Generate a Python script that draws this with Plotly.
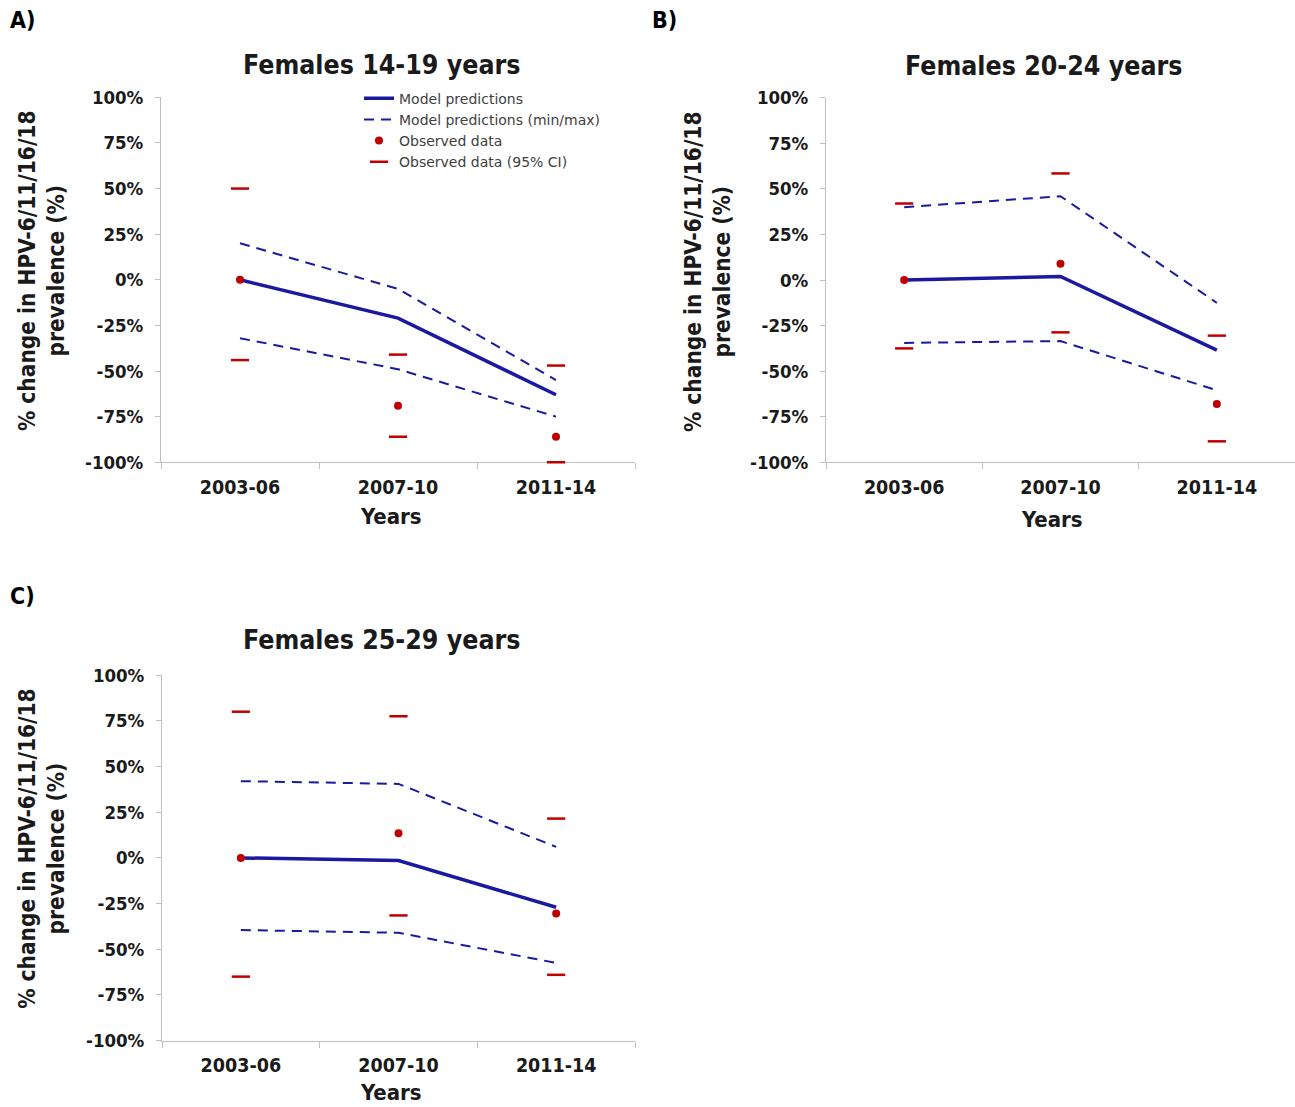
import plotly.graph_objects as go

W, H = 1295, 1107

periods = ["2003-06", "2007-10", "2011-14"]
y_ticks = [-100, -75, -50, -25, 0, 25, 50, 75, 100]
y_tick_labels = ["-100%", "-75%", "-50%", "-25%", "0%", "25%", "50%", "75%", "100%"]

panel_titles = ["Females 14-19 years", "Females 20-24 years", "Females 25-29 years"]
panel_letters = ["A)", "B)", "C)"]

# Panel A: females 14-19
a_model = [0, -21, -63]
a_max = [20, -5, -55]
a_min = [-32, -49, -75]
a_obs = [0, -69, -86]
a_ci_hi = [50, -41, -47]
a_ci_lo = [-44, -86, -100]

# Panel B: females 20-24
b_model = [0, 2, -38.5]
b_max = [40, 46, -12.5]
b_min = [-34.5, -33.5, -60.5]
b_obs = [0, 9, -68]
b_ci_hi = [42, 58.5, -30.5]
b_ci_lo = [-37.5, -28.7, -88.5]

# Panel C: females 25-29
c_model = [0, -1.5, -27]
c_max = [42, 40.5, 6]
c_min = [-39.5, -41, -57.5]
c_obs = [0, 13.5, -30.5]
c_ci_hi = [80, 77.5, 21.5]
c_ci_lo = [-65, -31.5, -64]

panels = [
    (a_model, a_max, a_min, a_obs, a_ci_hi, a_ci_lo),
    (b_model, b_max, b_min, b_obs, b_ci_hi, b_ci_lo),
    (c_model, c_max, c_min, c_obs, c_ci_hi, c_ci_lo),
]

BLUE = "#1a1aa0"
RED = "#c00000"
AXIS = "#bfbfbf"
TXT = "#1a1a1a"
FONT = "DejaVu Sans Condensed"

# plot areas in pixels: (left, right, top, bottom)
boxes = [(161, 635, 88, 460), (826, 1295, 88.5, 460), (162, 635, 677, 1049.5)]

def px(x):
    return x / W

def py(y):
    return 1 - y / H

fig = go.Figure()

for i, (model, mx, mn, obs, hi, lo) in enumerate(panels):
    n = "" if i == 0 else str(i + 1)
    xa, ya = "x" + n, "y" + n
    leg = i == 0
    fig.add_trace(go.Scatter(x=periods, y=model, mode="lines", name="Model predictions",
                             line=dict(color=BLUE, width=3.5), xaxis=xa, yaxis=ya,
                             showlegend=leg, legendgroup="model"))
    fig.add_trace(go.Scatter(x=periods, y=mx, mode="lines", name="Model predictions (min/max)",
                             line=dict(color=BLUE, width=2, dash="10px,7px"), xaxis=xa, yaxis=ya,
                             showlegend=leg, legendgroup="minmax"))
    fig.add_trace(go.Scatter(x=periods, y=mn, mode="lines", name="Model predictions (min/max)",
                             line=dict(color=BLUE, width=2, dash="10px,7px"), xaxis=xa, yaxis=ya,
                             showlegend=False, legendgroup="minmax"))
    fig.add_trace(go.Scatter(x=periods, y=obs, mode="markers", name="Observed data",
                             marker=dict(color=RED, size=8), xaxis=xa, yaxis=ya,
                             showlegend=leg, legendgroup="obs", cliponaxis=False))
    fig.add_trace(go.Scatter(x=periods, y=hi, mode="markers", name="Observed data (95% CI)",
                             marker=dict(symbol="line-ew", size=13, line=dict(color=RED, width=2.5)),
                             xaxis=xa, yaxis=ya, showlegend=leg, legendgroup="ci", cliponaxis=False))
    fig.add_trace(go.Scatter(x=periods, y=lo, mode="markers", name="Observed data (95% CI)",
                             marker=dict(symbol="line-ew", size=13, line=dict(color=RED, width=2.5)),
                             xaxis=xa, yaxis=ya, showlegend=False, legendgroup="ci", cliponaxis=False))

    l, r, t, b = boxes[i]
    xkey = "xaxis" + n
    ykey = "yaxis" + n
    fig.layout[xkey] = dict(
        domain=[px(l), px(r)], anchor=ya, type="category", categoryorder="array",
        categoryarray=periods, range=[-0.5, 2.5], tickson="boundaries",
        showline=True, linecolor=AXIS, linewidth=1, ticks="outside", ticklen=6,
        tickcolor=AXIS, showgrid=False, zeroline=False, layer="below traces",
        tickfont=dict(family=FONT, size=19.5, color=TXT, weight="bold"),
        ticklabelstandoff=7, fixedrange=True,
    )
    fig.layout[ykey] = dict(
        domain=[py(b), py(t)], anchor=xa, range=[-100, 100], tickmode="array",
        tickvals=y_ticks, ticktext=y_tick_labels, showline=True, linecolor=AXIS,
        linewidth=1, ticks="outside", ticklen=5, tickcolor=AXIS, showgrid=False,
        zeroline=False, layer="below traces",
        tickfont=dict(family=FONT, size=18.5, color=TXT, weight="bold"),
        ticklabelstandoff=8, fixedrange=True,
    )

annotations = []
title_pos = [(382, 55), (1043, 55.5), (382, 641)]
ytitle_pos = [(42, 265), (708, 266), (42, 854)]
xtitle_pos = [(391, 515), (1052, 518), (391, 1102)]
letter_pos = [(8, 9), (650, 9), (8, 596)]
for i in range(3):
    tx, ty = title_pos[i]
    annotations.append(dict(x=px(tx), y=py(ty), xref="paper", yref="paper", text=panel_titles[i],
                            showarrow=False, xanchor="center", yanchor="middle",
                            font=dict(family=FONT, size=26.5, color=TXT, weight="bold")))
    yx, yy = ytitle_pos[i]
    annotations.append(dict(x=px(yx), y=py(yy), xref="paper", yref="paper",
                            text="% change in HPV-6/11/16/18<br>prevalence (%)", textangle=-90,
                            showarrow=False, xanchor="center", yanchor="middle",
                            font=dict(family=FONT, size=22.5, color=TXT, weight="bold")))
    xx, xy = xtitle_pos[i]
    annotations.append(dict(x=px(xx), y=py(xy), xref="paper", yref="paper", text="Years",
                            showarrow=False, xanchor="center", yanchor="middle",
                            font=dict(family=FONT, size=22, color=TXT, weight="bold")))
    lx, ly = letter_pos[i]
    annotations.append(dict(x=px(lx), y=py(ly), xref="paper", yref="paper", text=panel_letters[i],
                            showarrow=False, xanchor="left", yanchor="middle",
                            font=dict(family=FONT, size=23, color="#000000", weight="bold")))

fig.update_layout(
    width=W, height=H, margin=dict(l=0, r=0, t=0, b=0),
    paper_bgcolor="white", plot_bgcolor="white",
    annotations=annotations,
    showlegend=True,
    legend=dict(x=px(359), y=py(73), xanchor="left", yanchor="top",
                bgcolor="rgba(0,0,0,0)", borderwidth=0,
                font=dict(family="DejaVu Sans", size=14, color="#404040"),
                tracegroupgap=0, itemclick=False, itemdoubleclick=False),
)

fig.write_html("out.html")
